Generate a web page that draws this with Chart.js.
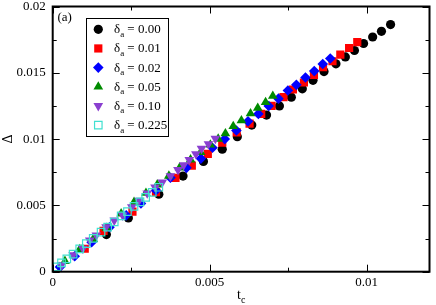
<!DOCTYPE html>
<html><head><meta charset="utf-8">
<script src="https://cdn.jsdelivr.net/npm/chart.js@4.4.1/dist/chart.umd.min.js"></script>
<style>html,body{margin:0;padding:0;background:#fff;}canvas{display:block;}</style>
</head><body>
<canvas id="c" width="436" height="305"></canvas>
<script>
// ---- data ----
const seriesLabels = ['0.00', '0.01', '0.02', '0.05', '0.10', '0.225'];

const d000_t = [0.00171,0.00241,0.00338,0.00415,0.00480,0.00540,0.00588,0.00634,0.00681,0.00722,0.00760,0.00795,0.00829,0.00864,0.00902,0.00932,0.00961,0.00990,0.01019,0.01047,0.01076];
const d000_D = [0.00280,0.00405,0.00585,0.00721,0.00832,0.00924,0.01018,0.01106,0.01181,0.01250,0.01316,0.01379,0.01443,0.01509,0.01568,0.01620,0.01668,0.01721,0.01770,0.01813,0.01864];

const d001_t = [0.00102,0.00162,0.00254,0.00329,0.00391,0.00443,0.00494,0.00540,0.00586,0.00627,0.00664,0.00697,0.00735,0.00765,0.00800,0.00832,0.00861,0.00891,0.00916,0.00944,0.00970];
const d001_D = [0.00173,0.00308,0.00453,0.00600,0.00708,0.00800,0.00888,0.00973,0.01051,0.01117,0.01190,0.01250,0.01316,0.01374,0.01427,0.01485,0.01543,0.01587,0.01637,0.01687,0.01732];

const d002_t = [0.00023,0.00070,0.00124,0.00181,0.00234,0.00281,0.00329,0.00375,0.00426,0.00472,0.00509,0.00548,0.00585,0.00622,0.00655,0.00688,0.00719,0.00749,0.00776,0.00805,0.00833,0.00860,0.00884];
const d002_D = [0.00035,0.00117,0.00222,0.00335,0.00425,0.00515,0.00612,0.00708,0.00783,0.00853,0.00935,0.01000,0.01065,0.01134,0.01190,0.01250,0.01305,0.01367,0.01409,0.01464,0.01513,0.01566,0.01608];

const d005_t = [0.00039,0.00086,0.00129,0.00171,0.00218,0.00259,0.00297,0.00333,0.00370,0.00404,0.00439,0.00471,0.00502,0.00527,0.00550,0.00575,0.00601,0.00630,0.00653,0.00678,0.00701];
const d005_D = [0.00080,0.00169,0.00246,0.00329,0.00438,0.00525,0.00593,0.00657,0.00722,0.00784,0.00845,0.00901,0.00957,0.01002,0.01042,0.01097,0.01140,0.01193,0.01234,0.01278,0.01325];

const d010_t = [0.00028,0.00065,0.00096,0.00118,0.00139,0.00170,0.00196,0.00223,0.00252,0.00275,0.00301,0.00326,0.00349,0.00375,0.00399,0.00417,0.00435,0.00456,0.00474,0.00496,0.00518];
const d010_D = [0.00050,0.00125,0.00175,0.00237,0.00275,0.00337,0.00387,0.00425,0.00487,0.00537,0.00592,0.00637,0.00675,0.00721,0.00768,0.00804,0.00843,0.00888,0.00928,0.00963,0.01004];

const d0225_t = [0.00013,0.00028,0.00045,0.00065,0.00086,0.00107,0.00129,0.00154,0.00175,0.00196,0.00218,0.00238,0.00259,0.00278,0.00296,0.00317,0.00338];
const d0225_D = [0.00037,0.00066,0.00097,0.00133,0.00172,0.00211,0.00251,0.00298,0.00336,0.00375,0.00421,0.00453,0.00492,0.00526,0.00560,0.00598,0.00637];

const xTickValues = [0, 0.005, 0.01];
const xTickLabels = ['0', '0.005', '0.01'];
const xMinorTicks = [0.0025, 0.0075];
const yTickValues = [0, 0.005, 0.01, 0.015, 0.02];
const yTickLabels = ['0', '0.005', '0.01', '0.015', '0.02'];
const yMinorTicks = [0.0025, 0.0075, 0.0125, 0.0175];

// ---- styles ----
const FONT = '"Liberation Serif", "DejaVu Serif", serif';
const styles = [
  {color:'#000000', shape:'circle', r:4.6, rot:0, fill:true},
  {color:'#ff0000', shape:'rect', r:5.8, rot:0, fill:true},
  {color:'#0000ff', shape:'rectRot', r:5.3, rot:0, fill:true},
  {color:'#008b00', shape:'triangle', r:5.6, rot:0, fill:true},
  {color:'#8a3fd0', shape:'triangle', r:5.6, rot:180, fill:true},
  {color:'#40e0d0', shape:'rect', r:5.3, rot:0, fill:false}
];
const seriesT = [d000_t, d001_t, d002_t, d005_t, d010_t, d0225_t];
const seriesD = [d000_D, d001_D, d002_D, d005_D, d010_D, d0225_D];

const datasets = seriesLabels.map((lab, i) => {
  const s = styles[i];
  return {
    label: 'δₐ = ' + lab,
    data: seriesT[i].map((t, k) => ({x: t, y: seriesD[i][k]})),
    pointStyle: s.shape,
    pointRotation: s.rot,
    pointRadius: s.r,
    pointHoverRadius: s.r,
    backgroundColor: s.fill ? s.color : 'rgba(0,0,0,0)',
    borderColor: s.color,
    pointBorderWidth: s.fill ? 0 : 1.2,
    borderWidth: s.fill ? 0 : 1.2,
    showLine: false,
    order: 6 - i
  };
});

function drawMarker(ctx, s, x, y) {
  ctx.save();
  ctx.translate(x, y);
  ctx.rotate(s.rot * Math.PI / 180);
  ctx.beginPath();
  const r = s.r;
  if (s.shape === 'circle') {
    ctx.arc(0, 0, r, 0, Math.PI * 2);
  } else if (s.shape === 'rect') {
    const h = r * Math.SQRT1_2;
    ctx.rect(-h, -h, 2 * h, 2 * h);
  } else if (s.shape === 'rectRot') {
    ctx.moveTo(0, -r); ctx.lineTo(r, 0); ctx.lineTo(0, r); ctx.lineTo(-r, 0); ctx.closePath();
  } else if (s.shape === 'triangle') {
    ctx.moveTo(0, -r);
    ctx.lineTo(r * Math.cos(Math.PI / 6), r / 2);
    ctx.lineTo(-r * Math.cos(Math.PI / 6), r / 2);
    ctx.closePath();
  }
  if (s.fill) { ctx.fillStyle = s.color; ctx.fill(); }
  else { ctx.strokeStyle = s.color; ctx.lineWidth = 1.2; ctx.stroke(); }
  ctx.restore();
}

const framePlugin = {
  id: 'frame',
  afterDatasetsDraw(chart) {
    const {ctx, chartArea: a, scales: {x, y}} = chart;
    ctx.save();
    ctx.strokeStyle = '#000';
    ctx.lineWidth = 1;
    ctx.beginPath();
    const xt = (v, len) => {
      const p = Math.round(x.getPixelForValue(v)) + 0.5;
      ctx.moveTo(p, a.bottom); ctx.lineTo(p, a.bottom - len);
      ctx.moveTo(p, a.top); ctx.lineTo(p, a.top + len);
    };
    const yt = (v, len) => {
      const p = Math.round(y.getPixelForValue(v)) + 0.5;
      ctx.moveTo(a.left, p); ctx.lineTo(a.left + len, p);
      ctx.moveTo(a.right, p); ctx.lineTo(a.right - len, p);
    };
    xTickValues.forEach(v => xt(v, 7));
    xMinorTicks.forEach(v => xt(v, 4));
    yTickValues.forEach(v => yt(v, 7));
    yMinorTicks.forEach(v => yt(v, 4));
    ctx.stroke();
    ctx.lineWidth = 2;
    ctx.strokeRect(a.left, a.top, a.right - a.left, a.bottom - a.top);

    // legend
    const lx = 86.5, ly = 18.5, lw = 82, lh = 118;
    ctx.fillStyle = '#fff';
    ctx.fillRect(lx, ly, lw, lh);
    ctx.lineWidth = 1;
    ctx.strokeStyle = '#000';
    ctx.strokeRect(lx, ly, lw, lh);
    ctx.fillStyle = '#000';
    ctx.textBaseline = 'alphabetic';
    ctx.textAlign = 'left';
    seriesLabels.forEach((lab, i) => {
      const ry = 29.3 + i * 19.15;
      drawMarker(ctx, styles[i], 98.3, ry);
      const base = ry + 4;
      let tx = 114;
      ctx.font = '13px ' + FONT;
      ctx.fillText('δ', tx, base);
      tx += ctx.measureText('δ').width;
      ctx.font = '9px ' + FONT;
      ctx.fillText('a', tx, base + 3.5);
      tx += ctx.measureText('a').width;
      ctx.font = '13px ' + FONT;
      ctx.fillText(' = ' + lab, tx, base);
    });

    // panel label
    ctx.font = '13px ' + FONT;
    ctx.fillText('(a)', 57.5, 21);

    // x axis title t_c
    ctx.font = '14px ' + FONT;
    const tw = ctx.measureText('t').width;
    const cx = (a.left + a.right) / 2;
    ctx.fillText('t', cx - 4, 299);
    ctx.font = '10px ' + FONT;
    ctx.fillText('c', cx - 4 + tw, 303);
    ctx.restore();
  }
};

new Chart(document.getElementById('c'), {
  type: 'scatter',
  data: {datasets},
  options: {
    responsive: false,
    animation: false,
    devicePixelRatio: 1,
    layout: {padding: {left: 0, right: 2.5, top: 5, bottom: 0}},
    plugins: {legend: {display: false}, tooltip: {enabled: false}},
    scales: {
      x: {
        type: 'linear', min: 0, max: 0.012,
        grid: {display: false, drawTicks: false},
        border: {display: false},
        afterBuildTicks: s => { s.ticks = xTickValues.map(v => ({value: v})); },
        afterFit: s => { s.height = 305 - 271.7; s.paddingLeft = 0; s.paddingRight = 0; },
        ticks: {
          padding: 3, maxRotation: 0, autoSkip: false, color: '#000',
          font: {family: FONT, size: 13},
          callback: v => { const k = xTickValues.indexOf(v); return k >= 0 ? xTickLabels[k] : ''; }
        }
      },
      y: {
        type: 'linear', min: 0, max: 0.02,
        grid: {display: false, drawTicks: false},
        border: {display: false},
        afterBuildTicks: s => { s.ticks = yTickValues.map(v => ({value: v})); },
        afterFit: s => { s.width = 52.7; s.paddingTop = 0; s.paddingBottom = 0; },
        title: {display: true, text: 'Δ', color: '#000', padding: 0, font: {family: FONT, size: 14}},
        ticks: {
          padding: 7, autoSkip: false, color: '#000',
          font: {family: FONT, size: 13},
          callback: v => { const k = yTickValues.indexOf(v); return k >= 0 ? yTickLabels[k] : ''; }
        }
      }
    }
  },
  plugins: [framePlugin]
});
</script>
</body></html>
